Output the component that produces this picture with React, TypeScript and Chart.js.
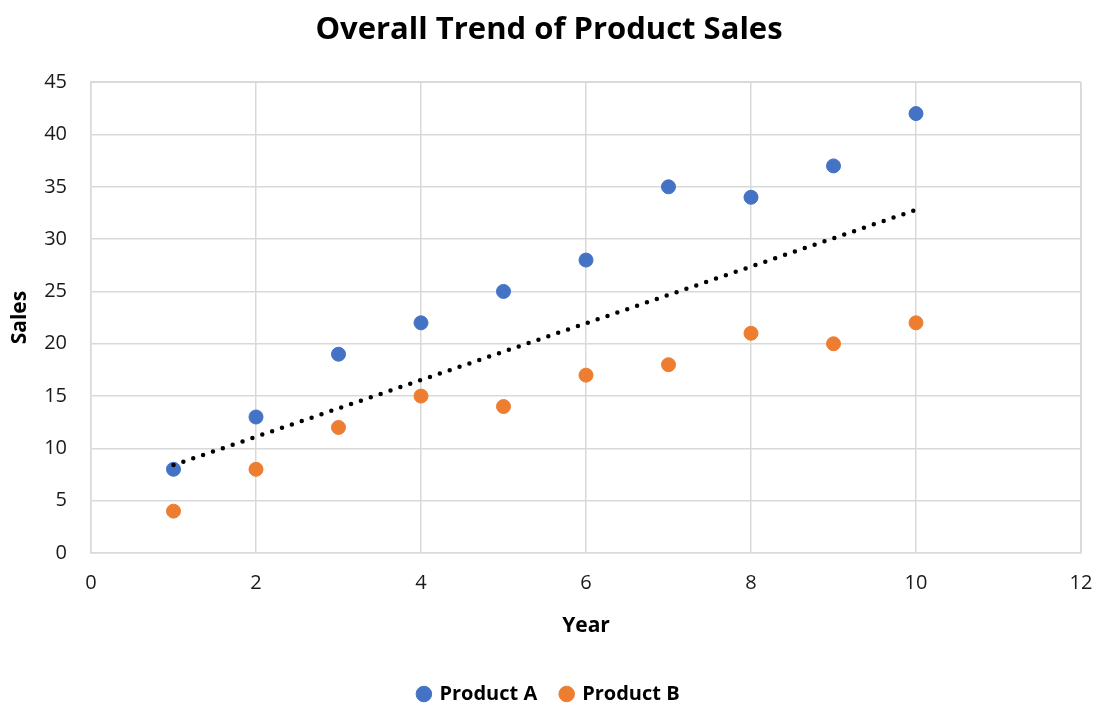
import React, { useEffect, useRef } from "react";
import { Chart, registerables } from "chart.js";

Chart.register(...registerables);

const years = [1, 2, 3, 4, 5, 6, 7, 8, 9, 10];
const productA = [8, 13, 19, 22, 25, 28, 35, 34, 37, 42];
const productB = [4, 8, 12, 15, 14, 17, 18, 21, 20, 22];
const trendX = [1, 10];
const trendY = [8.4, 32.8];

const FONT = "'Open Sans', 'Noto Sans', sans-serif";

export default function App() {
  const ref = useRef<HTMLCanvasElement | null>(null);
  useEffect(() => {
    if (!ref.current) return;
    const chart = new Chart(ref.current, {
      type: "scatter",
      data: {
        datasets: [
          {
            label: "Product A",
            data: years.map((x, i) => ({ x, y: productA[i] })),
            backgroundColor: "#4472C4",
            borderColor: "#4472C4",
            pointRadius: 7,
            pointHoverRadius: 7,
            order: 2,
          },
          {
            label: "Product B",
            data: years.map((x, i) => ({ x, y: productB[i] })),
            backgroundColor: "#ED7D31",
            borderColor: "#ED7D31",
            pointRadius: 7,
            pointHoverRadius: 7,
            order: 3,
          },
          {
            type: "line",
            label: "Trend",
            data: trendX.map((x, i) => ({ x, y: trendY[i] })),
            borderColor: "#000000",
            borderWidth: 4.5,
            borderDash: [0, 10.43],
            borderCapStyle: "round",
            pointRadius: 0,
            fill: false,
            order: 1,
          } as any,
        ],
      },
      options: {
        animation: false,
        responsive: true,
        maintainAspectRatio: false,
        layout: { padding: { left: 0, right: 0, top: 0, bottom: -9 } },
        plugins: {
          title: {
            display: true,
            text: "Overall Trend of Product Sales",
            color: "#000000",
            font: { family: FONT, size: 31, weight: "bold" },
            padding: { top: 12, bottom: 33 },
          },
          legend: {
            position: "bottom",
            labels: {
              usePointStyle: true,
              pointStyle: "circle",
              boxWidth: 11,
              boxHeight: 11,
              color: "#000000",
              font: { family: FONT, size: 20, weight: "bold" },
              padding: 24,
              filter: (item: any) => item.text !== "Trend",
            },
          },
          tooltip: { enabled: false },
        },
        scales: {
          x: {
            type: "linear",
            min: 0,
            max: 12,
            ticks: { stepSize: 2, color: "#1a1a1a", font: { family: FONT, size: 20 }, padding: 18 },
            grid: { color: "#d9d9d9", lineWidth: 1.5, drawTicks: false },
            border: { color: "#d9d9d9", width: 1.5 },
            title: {
              display: true,
              text: "Year",
              color: "#000000",
              font: { family: FONT, size: 21, weight: "bold" },
              padding: { top: 0, bottom: 21 },
            },
            afterFit: (scale: any) => {
              const lg = scale.chart.legend;
              const lh = lg && lg.height ? lg.height : 40;
              scale.height = 714 - lh - 553;
              scale.paddingRight = 17;
              scale.paddingLeft = 0;
            },
          },
          y: {
            min: 0,
            max: 45,
            ticks: { stepSize: 5, color: "#1a1a1a", font: { family: FONT, size: 20 }, padding: 24 },
            grid: { color: "#d9d9d9", lineWidth: 1.5, drawTicks: false },
            border: { color: "#d9d9d9", width: 1.5 },
            title: {
              display: true,
              text: "Sales",
              color: "#000000",
              font: { family: FONT, size: 21, weight: "bold" },
              padding: { top: 7, bottom: 0 },
            },
            afterFit: (scale: any) => {
              scale.width = 91;
            },
          },
        },
      },
      plugins: [
        {
          id: "plotBorder",
          beforeDatasetsDraw(c: any) {
            const { ctx, chartArea } = c;
            ctx.save();
            ctx.strokeStyle = "#d9d9d9";
            ctx.lineWidth = 1.5;
            ctx.beginPath();
            ctx.moveTo(chartArea.right, chartArea.top);
            ctx.lineTo(chartArea.right, chartArea.bottom);
            ctx.moveTo(chartArea.left, chartArea.top);
            ctx.lineTo(chartArea.right, chartArea.top);
            ctx.stroke();
            ctx.restore();
          },
        },
      ],
    });
    return () => chart.destroy();
  }, []);
  return (
    <div style={{ position: "fixed", left: 0, top: 0, width: 1098, height: 705, background: "#fff" }}>
      <canvas ref={ref} width={1098} height={705} />
    </div>
  );
}
